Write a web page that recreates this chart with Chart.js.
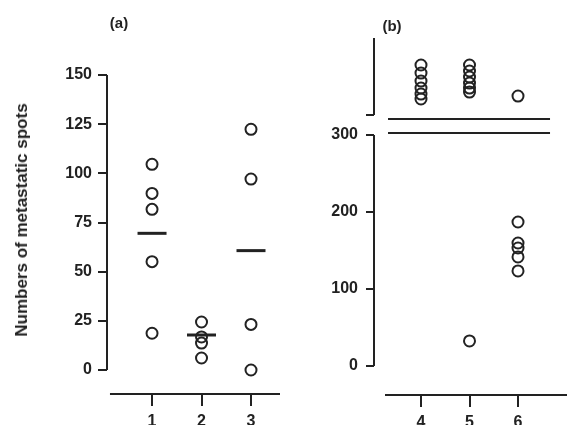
<!DOCTYPE html>
<html>
<head>
<meta charset="utf-8">
<script src="https://cdn.jsdelivr.net/npm/chart.js@4"></script>
<style>
  html, body { margin: 0; padding: 0; background: #fff; }
  #wrap { position: relative; width: 567px; height: 425px; overflow: hidden;
          font-family: "Liberation Sans", Arial, sans-serif; color: #222; }
  #chartA { position: absolute; left: 0; top: 0; }
  #chartB { position: absolute; left: 290px; top: 0; }
  .lbl { position: absolute; transform: translate(-50%, -50%); font-weight: bold; font-size: 15px; }
  #ytitle { position: absolute; left: 22px; top: 220px; white-space: nowrap;
            transform: translate(-50%, -50%) rotate(-90deg); font-weight: bold; font-size: 17px; }
</style>
</head>
<body>
<div id="wrap">
  <canvas id="chartA" width="290" height="425"></canvas>
  <canvas id="chartB" width="277" height="425"></canvas>
  <div class="lbl" style="left:119px; top:22px;">(a)</div>
  <div class="lbl" style="left:392px; top:25px;">(b)</div>
  <div id="ytitle">Numbers of metastatic spots</div>
</div>
<script>
// panel (a)
const groupsA = [1, 2, 3];
const spots1 = [104.6, 89.8, 81.7, 55.1, 18.7];
const spots2 = [24.4, 16.8, 13.7, 6.1];
const spots3 = [122.4, 97.1, 23.2, 0];
const meansA = [69.5, 17.8, 60.7];
const yTicksA = [0, 25, 50, 75, 100, 125, 150];

// panel (b) - values above the break are read on the continued scale
const groupsB = [4, 5, 6];
const spots4 = [390.9, 380.5, 370.1, 361, 353.2, 346.8];
const spots5 = [390.9, 383.1, 375.3, 367.5, 361, 355.8, 32.5];
const spots6 = [350.6, 187, 159.7, 153.2, 141.6, 123.4];
const yTicksB = [0, 100, 200, 300];
const breakTickB = 326;
const breakLevels = [320.8, 302.6];

const ink = "#222";
const tickFont = { family: "'Liberation Sans', Arial, sans-serif", size: 16, weight: "bold" };

// axis lines are drawn only over the ranges the figure shows
const axisLines = {
  id: "axisLines",
  afterDraw(chart, args, opts) {
    const { ctx, chartArea, scales: { x, y } } = chart;
    ctx.save();
    ctx.strokeStyle = ink;
    ctx.lineWidth = 2;
    ctx.beginPath();
    opts.ySegments.forEach(([a, b]) => {
      ctx.moveTo(chartArea.left, y.getPixelForValue(a));
      ctx.lineTo(chartArea.left, y.getPixelForValue(b));
    });
    ctx.moveTo(x.getPixelForValue(opts.xFrom), chartArea.bottom);
    ctx.lineTo(chartArea.right, chartArea.bottom);
    ctx.stroke();
    ctx.restore();
  }
};

function circles(group, values) {
  return {
    data: values.map(v => ({ x: group, y: v })),
    pointStyle: "circle",
    pointRadius: 5.5,
    pointBorderWidth: 2,
    pointBorderColor: ink,
    pointBackgroundColor: "rgba(0,0,0,0)",
    showLine: false
  };
}

function baseScales(o) {
  return {
    x: {
      type: "linear", min: o.xMin, max: o.xMax,
      border: { display: false },
      grid: { drawOnChartArea: false, tickLength: 12, color: ink, lineWidth: 2 },
      ticks: { padding: 6, color: ink, font: tickFont },
      afterBuildTicks: s => { s.ticks = o.xTicks.map(v => ({ value: v })); },
      afterFit: s => { s.height = o.xHeight; }
    },
    y: {
      min: o.yMin, max: o.yMax,
      border: { display: false },
      grid: { drawOnChartArea: false, tickLength: o.yTick, color: ink, lineWidth: 2 },
      ticks: { padding: o.yPad, color: ink, font: tickFont, callback: o.yLabel },
      afterBuildTicks: s => { s.ticks = o.yTicks.map(v => ({ value: v })); },
      afterFit: s => { s.width = o.yWidth; }
    }
  };
}

const common = {
  responsive: false,
  animation: false,
  clip: false,
  plugins: { legend: { display: false }, tooltip: { enabled: false } }
};

new Chart(document.getElementById("chartA"), {
  type: "scatter",
  data: {
    datasets: [
      circles(1, spots1),
      circles(2, spots2),
      circles(3, spots3),
      {
        data: meansA.map((m, i) => ({ x: groupsA[i], y: m })),
        pointStyle: "line",
        pointRadius: 14.5,
        pointBorderWidth: 3,
        pointBorderColor: ink,
        showLine: false
      }
    ]
  },
  options: {
    ...common,
    layout: { autoPadding: false, padding: { left: 0, top: 75, right: 10, bottom: 0 } },
    scales: baseScales({
      xMin: 0.09, xMax: 3.586, xTicks: groupsA, xHeight: 31,
      yMin: -12.2, yMax: 150, yTicks: yTicksA, yTick: 9, yPad: 6, yWidth: 107,
      yLabel: v => v
    }),
    plugins: { ...common.plugins, axisLines: { ySegments: [[0, 150]], xFrom: 0.15 } }
  },
  plugins: [axisLines]
});

const breakFrom = 3.32, breakTo = 6.66;

new Chart(document.getElementById("chartB"), {
  type: "scatter",
  data: {
    datasets: [
      circles(4, spots4),
      circles(5, spots5),
      circles(6, spots6),
      ...breakLevels.map(level => ({
        data: [{ x: breakFrom, y: level }, { x: breakTo, y: level }],
        showLine: true,
        borderColor: ink,
        borderWidth: 2,
        pointRadius: 0
      }))
    ]
  },
  options: {
    ...common,
    layout: { autoPadding: false, padding: { left: 0, top: 38, right: 0, bottom: 0 } },
    scales: baseScales({
      xMin: 3.031, xMax: 7.01, xTicks: groupsB, xHeight: 30,
      yMin: -37.7, yMax: 426, yTicks: [...yTicksB, breakTickB], yTick: 8, yPad: 8, yWidth: 84,
      yLabel: v => (yTicksB.includes(v) ? v : "")
    }),
    plugins: { ...common.plugins, axisLines: { ySegments: [[0, 300], [breakTickB, 426]], xFrom: 3.258 } }
  },
  plugins: [axisLines]
});
</script>
</body>
</html>
